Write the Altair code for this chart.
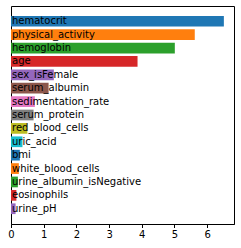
import altair as alt
import pandas as pd

features = ["hematocrit", "physical_activity", "hemoglobin", "age", "sex_isFemale",
            "serum_albumin", "sedimentation_rate", "serum_protein", "red_blood_cells",
            "uric_acid", "bmi", "white_blood_cells", "urine_albumin_isNegative",
            "eosinophils", "urine_pH"]
importance = [6.51, 5.62, 5.01, 3.87, 1.31, 1.15, 0.73, 0.69, 0.50, 0.35, 0.27,
              0.24, 0.21, 0.165, 0.14]
tick_values = [0, 1, 2, 3, 4, 5, 6]
tab10 = ["#1f77b4", "#ff7f0e", "#2ca02c", "#d62728", "#9467bd", "#8c564b",
         "#e377c2", "#7f7f7f", "#bcbd22", "#17becf"]
colors = [tab10[i % 10] for i in range(len(features))]

df = pd.DataFrame({"feature": features, "value": importance})

axis = alt.Axis(values=tick_values, tickCount=7, grid=False, tickSize=3.5,
                labelFontSize=10, labelColor="black", tickColor="black",
                domainColor="black", labelFont="DejaVu Sans", labelPadding=2,
                labelOverlap=False, labelFlush=False)
xscale = alt.Scale(domain=[0, 6.82], nice=False, zero=True)
y = alt.Y("feature:N", sort=features, axis=None,
          scale=alt.Scale(paddingInner=0.2, paddingOuter=0.74))

bars = alt.Chart(df).mark_bar().encode(
    x=alt.X("value:Q", title=None, scale=xscale, axis=axis),
    y=y,
    color=alt.Color("feature:N", scale=alt.Scale(domain=features, range=colors), legend=None),
)
labels = alt.Chart(df).transform_calculate(start="0").mark_text(
    align="left", baseline="middle", dx=1, fontSize=10,
    font="DejaVu Sans", color="black").encode(
    x=alt.X("start:Q", title=None, scale=xscale, axis=axis), y=y, text="feature:N")

chart = alt.layer(bars, labels).properties(
    width=223, height=218,
    padding={"left": 11, "top": 6, "right": 7, "bottom": 24},
    autosize="none",
).configure_view(stroke="black", strokeWidth=1)

chart.save("out.html", embed_options={"renderer": "svg", "actions": False})
